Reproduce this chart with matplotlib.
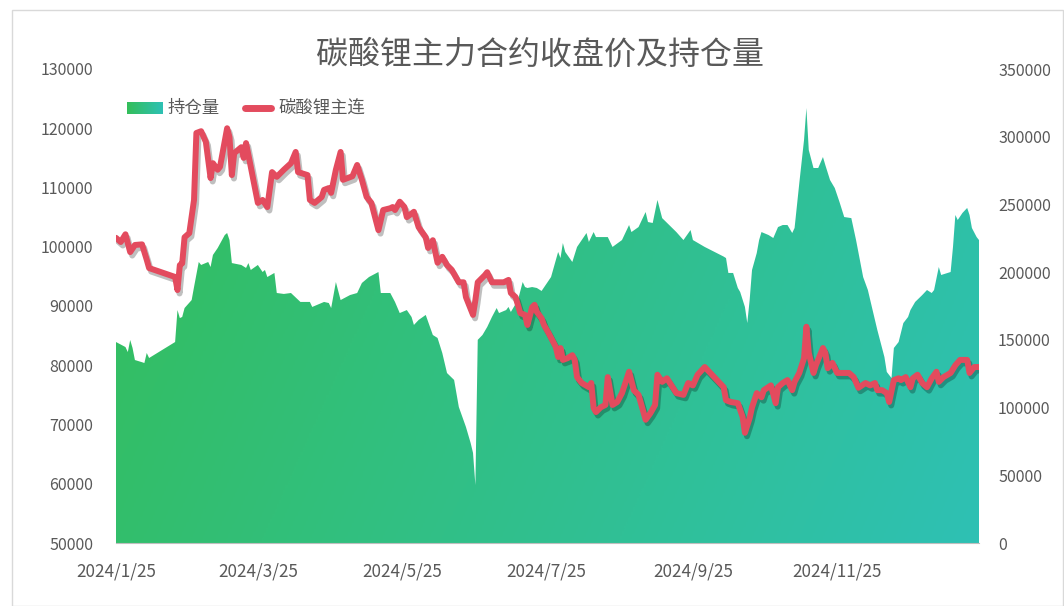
import numpy as np
import pandas as pd
import matplotlib
matplotlib.use('Agg')
import matplotlib.pyplot as plt
import matplotlib.patheffects as pe
from matplotlib.colors import LinearSegmentedColormap
from matplotlib.lines import Line2D
from matplotlib.patches import Rectangle

# 碳酸锂主连 收盘价 (左轴)
price_dates = [
    '2024-01-25', '2024-01-27', '2024-01-29', '2024-01-31', '2024-02-02', '2024-02-05', '2024-02-07', '2024-02-08',
    '2024-02-19', '2024-02-20', '2024-02-21', '2024-02-22', '2024-02-23', '2024-02-25', '2024-02-27', '2024-02-28',
    '2024-03-01', '2024-03-03', '2024-03-05', '2024-03-06', '2024-03-08', '2024-03-09', '2024-03-12', '2024-03-13',
    '2024-03-14', '2024-03-15', '2024-03-18', '2024-03-19', '2024-03-20', '2024-03-22', '2024-03-25', '2024-03-27',
    '2024-03-29', '2024-03-31', '2024-04-02', '2024-04-05', '2024-04-08', '2024-04-10', '2024-04-11', '2024-04-15',
    '2024-04-16', '2024-04-18', '2024-04-21', '2024-04-22', '2024-04-24', '2024-04-25', '2024-04-27', '2024-04-29',
    '2024-04-30', '2024-05-04', '2024-05-06', '2024-05-08', '2024-05-10', '2024-05-12', '2024-05-15', '2024-05-17',
    '2024-05-20', '2024-05-21', '2024-05-22', '2024-05-24', '2024-05-26', '2024-05-27', '2024-05-30', '2024-06-01',
    '2024-06-04', '2024-06-05', '2024-06-07', '2024-06-09', '2024-06-11', '2024-06-13', '2024-06-15', '2024-06-17',
    '2024-06-18', '2024-06-20', '2024-06-21', '2024-06-24', '2024-06-25', '2024-06-26', '2024-06-29', '2024-06-30',
    '2024-07-02', '2024-07-05', '2024-07-07', '2024-07-09', '2024-07-10', '2024-07-12', '2024-07-14', '2024-07-16',
    '2024-07-17', '2024-07-19', '2024-07-20', '2024-07-21', '2024-07-23', '2024-07-24', '2024-07-26', '2024-07-29',
    '2024-07-30', '2024-07-31', '2024-08-01', '2024-08-03', '2024-08-05', '2024-08-06', '2024-08-07', '2024-08-09',
    '2024-08-12', '2024-08-13', '2024-08-14', '2024-08-15', '2024-08-17', '2024-08-19', '2024-08-20', '2024-08-22',
    '2024-08-24', '2024-08-26', '2024-08-29', '2024-08-31', '2024-09-02', '2024-09-05', '2024-09-07', '2024-09-09',
    '2024-09-10', '2024-09-12', '2024-09-14', '2024-09-18', '2024-09-21', '2024-09-23', '2024-09-25', '2024-09-27',
    '2024-09-30', '2024-10-08', '2024-10-09', '2024-10-11', '2024-10-14', '2024-10-16', '2024-10-17', '2024-10-19',
    '2024-10-20', '2024-10-22', '2024-10-24', '2024-10-25', '2024-10-28', '2024-10-30', '2024-10-31', '2024-11-02',
    '2024-11-04', '2024-11-06', '2024-11-07', '2024-11-09', '2024-11-11', '2024-11-12', '2024-11-13', '2024-11-15',
    '2024-11-16', '2024-11-19', '2024-11-20', '2024-11-21', '2024-11-23', '2024-11-25', '2024-11-27', '2024-11-30',
    '2024-12-02', '2024-12-04', '2024-12-07', '2024-12-09', '2024-12-11', '2024-12-12', '2024-12-14', '2024-12-16',
    '2024-12-17', '2024-12-19', '2024-12-21', '2024-12-22', '2024-12-24', '2024-12-26', '2024-12-27', '2024-12-29',
    '2024-12-31', '2025-01-02', '2025-01-04', '2025-01-06', '2025-01-07', '2025-01-09', '2025-01-12', '2025-01-14',
    '2025-01-16', '2025-01-19', '2025-01-20', '2025-01-22', '2025-01-24',
]
price = [
    101500, 100800, 102100, 99100, 100300, 100400, 97800, 96400,
    94900, 92700, 96900, 97200, 101600, 102300, 107900, 119200,
    119500, 117700, 111600, 114100, 113000, 113500, 120000, 118500,
    112100, 115800, 116800, 115000, 117500, 113500, 107400, 107900,
    106700, 112600, 111800, 113000, 114100, 116000, 112600, 112100,
    107900, 107400, 108400, 109600, 109900, 109100, 113000, 116000,
    111300, 111900, 113800, 111300, 108400, 107400, 102800, 106200,
    106500, 106700, 106200, 107600, 106700, 105000, 105900, 103300,
    101600, 99800, 101100, 97300, 98300, 96900, 96100, 94700,
    94000, 94000, 91500, 88500, 91000, 94000, 95200, 95700,
    94000, 94000, 94000, 94400, 92200, 91500, 88800, 88500,
    86800, 89800, 90200, 89000, 87900, 86800, 85400, 83100,
    81400, 82900, 80900, 81200, 81700, 80900, 78000, 77000,
    76300, 77000, 72800, 72100, 72900, 73300, 78000, 73300,
    73800, 75300, 78900, 75800, 75000, 70800, 71900, 73300,
    78400, 77200, 77800, 75300, 75000, 77000, 76600, 78400,
    79700, 76300, 74100, 73800, 73600, 71300, 68600, 71100,
    72900, 75300, 74600, 75800, 76600, 73600, 76300, 77000,
    77500, 75800, 77200, 78700, 81200, 86500, 82100, 78700,
    80000, 82900, 82100, 79500, 80400, 78700, 78700, 78700,
    78000, 76200, 77000, 76600, 77000, 75800, 75800, 75300,
    73800, 77500, 77800, 77500, 78000, 76300, 77800, 78400,
    77000, 76300, 77800, 78900, 77200, 78000, 78700, 80000,
    80900, 80900, 78700, 79700, 79700,
]

# 持仓量 (右轴)
oi_dates = [
    '2024-01-25', '2024-01-29', '2024-01-30', '2024-01-31', '2024-02-01', '2024-02-02', '2024-02-05', '2024-02-06',
    '2024-02-07', '2024-02-08', '2024-02-19', '2024-02-20', '2024-02-21', '2024-02-22', '2024-02-23', '2024-02-26',
    '2024-02-27', '2024-02-29', '2024-03-01', '2024-03-04', '2024-03-05', '2024-03-06', '2024-03-08', '2024-03-11',
    '2024-03-12', '2024-03-13', '2024-03-14', '2024-03-18', '2024-03-20', '2024-03-21', '2024-03-22', '2024-03-25',
    '2024-03-27', '2024-03-28', '2024-03-29', '2024-04-01', '2024-04-02', '2024-04-05', '2024-04-08', '2024-04-12',
    '2024-04-16', '2024-04-17', '2024-04-22', '2024-04-24', '2024-04-25', '2024-04-27', '2024-04-29', '2024-05-03',
    '2024-05-06', '2024-05-08', '2024-05-11', '2024-05-15', '2024-05-16', '2024-05-20', '2024-05-22', '2024-05-24',
    '2024-05-27', '2024-05-29', '2024-05-30', '2024-06-01', '2024-06-04', '2024-06-07', '2024-06-09', '2024-06-11',
    '2024-06-13', '2024-06-16', '2024-06-18', '2024-06-21', '2024-06-23', '2024-06-24', '2024-06-25', '2024-06-26',
    '2024-06-28', '2024-06-30', '2024-07-02', '2024-07-04', '2024-07-05', '2024-07-08', '2024-07-09', '2024-07-10',
    '2024-07-13', '2024-07-15', '2024-07-16', '2024-07-17', '2024-07-19', '2024-07-21', '2024-07-23', '2024-07-27',
    '2024-07-30', '2024-07-31', '2024-08-01', '2024-08-02', '2024-08-05', '2024-08-07', '2024-08-11', '2024-08-12',
    '2024-08-14', '2024-08-15', '2024-08-20', '2024-08-22', '2024-08-26', '2024-08-29', '2024-08-30', '2024-09-02',
    '2024-09-05', '2024-09-06', '2024-09-08', '2024-09-10', '2024-09-12', '2024-09-18', '2024-09-21', '2024-09-24',
    '2024-09-25', '2024-09-30', '2024-10-08', '2024-10-09', '2024-10-10', '2024-10-12', '2024-10-14', '2024-10-15',
    '2024-10-17', '2024-10-18', '2024-10-19', '2024-10-20', '2024-10-22', '2024-10-23', '2024-10-24', '2024-10-27',
    '2024-10-29', '2024-10-31', '2024-11-02', '2024-11-04', '2024-11-06', '2024-11-07', '2024-11-09', '2024-11-11',
    '2024-11-12', '2024-11-13', '2024-11-15', '2024-11-17', '2024-11-19', '2024-11-20', '2024-11-22', '2024-11-24',
    '2024-11-26', '2024-11-28', '2024-12-01', '2024-12-03', '2024-12-06', '2024-12-08', '2024-12-10', '2024-12-12',
    '2024-12-14', '2024-12-15', '2024-12-16', '2024-12-18', '2024-12-19', '2024-12-21', '2024-12-23', '2024-12-25',
    '2024-12-26', '2024-12-28', '2024-12-31', '2025-01-02', '2025-01-04', '2025-01-05', '2025-01-07', '2025-01-08',
    '2025-01-12', '2025-01-13', '2025-01-14', '2025-01-15', '2025-01-17', '2025-01-19', '2025-01-20', '2025-01-21',
    '2025-01-23', '2025-01-24',
]
oi = [
    148400, 144700, 141000, 149900, 144000, 135100, 133500, 132900,
    140300, 136600, 148400, 172000, 166100, 166900, 173500, 179400,
    189000, 207500, 205300, 207500, 203800, 212700, 217800, 227400,
    228900, 223700, 206700, 205300, 203100, 206700, 201600, 205300,
    200100, 201600, 196400, 199400, 184600, 183900, 184600, 178000,
    178000, 174300, 178000, 177200, 173500, 192700, 179400, 183100,
    184600, 192000, 196400, 200100, 184600, 184600, 178000, 169800,
    172000, 166900, 161000, 164700, 168400, 153600, 151400, 140300,
    125500, 120400, 100400, 85700, 73800, 66500, 42800, 150000,
    153600, 159500, 166900, 173500, 169800, 172000, 174300, 170600,
    179400, 192700, 189000, 188300, 189000, 188300, 186100, 196400,
    214900, 210400, 221500, 214900, 207500, 218600, 228900, 222300,
    229600, 225900, 225900, 218600, 223700, 234800, 229600, 233300,
    244400, 237000, 236300, 253300, 239900, 229600, 223700, 231100,
    223700, 218600, 211500, 210400, 199400, 199400, 188300, 185300,
    174300, 162400, 179400, 201600, 214100, 223700, 229600, 227400,
    225200, 233300, 234800, 234800, 228900, 232600, 265800, 297600,
    321200, 290200, 276900, 276900, 285000, 279100, 268000, 262100,
    251800, 240700, 239900, 223700, 196400, 186800, 172000, 157300,
    144000, 137300, 126300, 121800, 144000, 148400, 162400, 166900,
    172000, 178000, 183100, 186800, 184600, 186800, 203800, 197900,
    200100, 218600, 242200, 238500, 243700, 247400, 242200, 232600,
    225900, 223700,
]

xtick_dates = ['2024-01-25', '2024-03-25', '2024-05-25', '2024-07-25', '2024-09-25', '2024-11-25']
xtick_labels = ['2024/1/25', '2024/3/25', '2024/5/25', '2024/7/25', '2024/9/25', '2024/11/25']
left_ticks = [50000, 60000, 70000, 80000, 90000, 100000, 110000, 120000, 130000]
right_ticks = [0, 50000, 100000, 150000, 200000, 250000, 300000, 350000]

title = '碳酸锂主力合约收盘价及持仓量'

plt.rcParams['font.family'] = ['Noto Sans CJK SC', 'DejaVu Sans']

txt = '#595959'
red = '#E34B5E'
green = '#34BE5A'
teal = '#2EC1B4'
cmap = LinearSegmentedColormap.from_list('g', [green, teal])

W, H = 1064, 606
fig = plt.figure(figsize=(W / 100, H / 100), dpi=100)
fig.patches.append(Rectangle((12 / W, 0), 1 - 13 / W, 1 - 10 / H, transform=fig.transFigure,
                             fill=False, edgecolor='#D9D9D9', lw=1))

L, R, T, B = 116, 979, 69, 543
ax = fig.add_axes([L / W, 1 - B / H, (R - L) / W, (B - T) / H])
ax2 = ax.twinx()

px = pd.to_datetime(price_dates)
ox = pd.to_datetime(oi_dates)
x0, x1 = pd.Timestamp('2024-01-25'), pd.Timestamp('2025-01-24')

# 持仓量 面积 (渐变填充)
poly = ax.fill_between(ox, 0, oi, facecolor='none', edgecolor='none', zorder=1)
poly.set_path_effects([pe.SimplePatchShadow(offset=(2, -2), shadow_rgbFace='k', alpha=0.25), pe.Normal()])
u, v = np.meshgrid(np.linspace(0, 1, 400), np.linspace(1, 0, 300))
grad = np.clip(0.8 * u + 0.2 * (1 - v), 0, 1)
img = ax.imshow(grad, extent=[0, 1, 0, 1], transform=ax.transAxes, aspect='auto',
                cmap=cmap, vmin=0, vmax=1, zorder=2, interpolation='bilinear')
clip = ax.fill_between(ox, 0, oi, facecolor='none', edgecolor='none')
img.set_clip_path(clip.get_paths()[0], ax.transData)

ax.set_xlim(x0, x1)
ax.set_ylim(0, 350000)
ax.yaxis.tick_right()
ax.set_yticks(right_ticks)
ax.set_yticklabels([str(t) for t in right_ticks])

# 碳酸锂主连 收盘价
ax2.plot(px, price, color=red, lw=4.3, solid_joinstyle='round', solid_capstyle='round',
         path_effects=[pe.SimpleLineShadow(offset=(1.5, -2.5), shadow_color='k', alpha=0.25), pe.Normal()])
ax2.set_xlim(x0, x1)
ax2.set_ylim(50000, 130000)
ax2.yaxis.tick_left()
ax2.set_yticks(left_ticks)
ax2.set_yticklabels([str(t) for t in left_ticks])

ax.set_xticks(pd.to_datetime(xtick_dates))
ax.set_xticklabels(xtick_labels)

for a in (ax, ax2):
    for s in a.spines.values():
        s.set_visible(False)
    a.tick_params(length=0, colors=txt)
ax.spines['bottom'].set_visible(True)
ax.spines['bottom'].set_color('#BFBFBF')
ax.tick_params(axis='x', pad=14, labelsize=12.3)
ax.tick_params(axis='y', pad=13.7, labelsize=11.5)
ax2.tick_params(axis='y', pad=16.5, labelsize=11.5)

fig.text(540 / W, 1 - 55 / H, title, ha='center', va='center', fontsize=23, color=txt)

# 图例
lax = fig.add_axes([127 / W, 1 - 114 / H, 36 / W, 12 / H])
lax.imshow(np.linspace(0, 1, 50)[None, :], aspect='auto', cmap=cmap)
lax.axis('off')
fig.text(168 / W, 1 - 108 / H, '持仓量', ha='left', va='center', fontsize=12.5, color=txt)
fig.add_artist(Line2D([245 / W, 271 / W], [1 - 108 / H, 1 - 108 / H], transform=fig.transFigure,
                      color=red, lw=5, solid_capstyle='round'))
fig.text(278 / W, 1 - 108 / H, '碳酸锂主连', ha='left', va='center', fontsize=12.5, color=txt)

fig.savefig('out.png', dpi=100)
